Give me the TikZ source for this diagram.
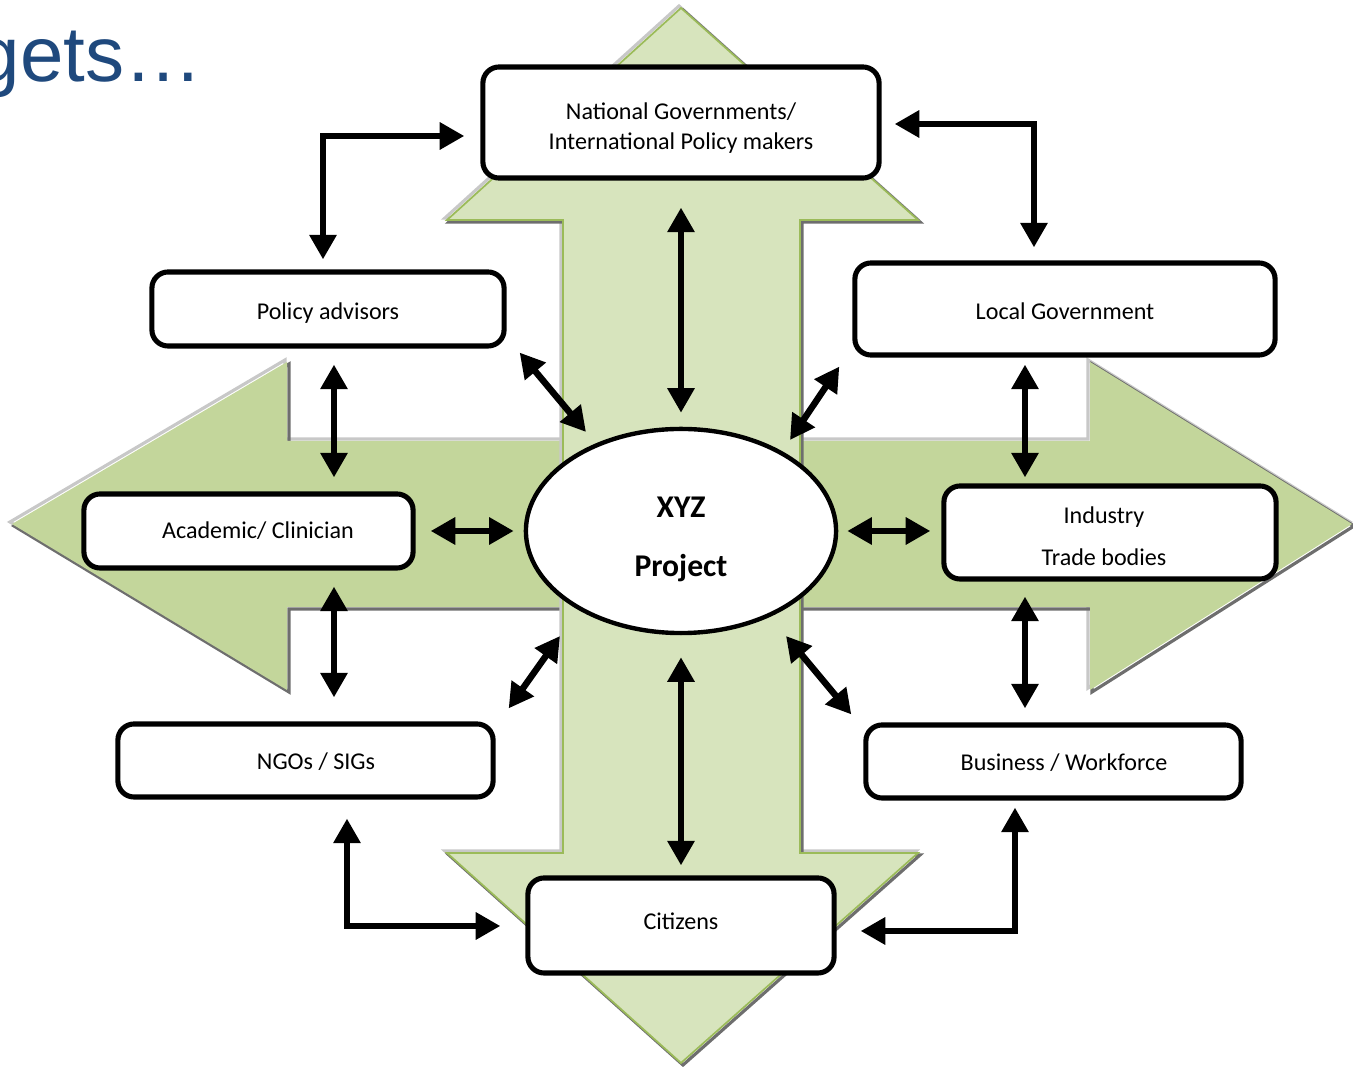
\documentclass[tikz,border=0pt]{standalone}
\usepackage{fontspec}
\setmainfont{Carlito}
\newfontfamily\titlefont{Liberation Sans}
\usetikzlibrary{calc,arrows.meta,shapes.geometric}

\definecolor{vgreen}{RGB}{215,228,189}
\definecolor{hgreen}{RGB}{195,214,155}
\definecolor{edgegreen}{RGB}{155,187,89}
\definecolor{titleblue}{RGB}{31,73,125}
\definecolor{shadelight}{RGB}{200,200,200}
\definecolor{shadedark}{RGB}{110,110,110}

\tikzset{
  box/.style={draw, line width=1.45pt, rounded corners=4.6pt, fill=white,
    align=center, inner sep=0pt,
    font=\fontsize{6.85}{8.25}\selectfont},
  hub/.style={ellipse, draw, line width=1.25pt, fill=white, align=center,
    inner sep=0pt, minimum width=3.1cm, minimum height=2.04cm,
    font=\bfseries\fontsize{9}{10.8}\selectfont},
  conn/.style={line width=1.85pt, line join=miter,
    {Triangle[width=7.4pt,length=7pt]}-{Triangle[width=7.4pt,length=7pt]}},
  hilite/.style={draw=shadelight, line width=0.9pt},
  lowlite/.style={draw=shadedark, line width=0.9pt}
}

\begin{document}
\begin{tikzpicture}[x=0.01cm,y=-0.01cm]
\useasboundingbox (0,0) rectangle (1353,1067);

% horizontal double arrow
\def\harrow{(12,524) -- (287,362) -- (287,441) -- (1090,441) -- (1090,362)
  -- (1352,524) -- (1090,690) -- (1090,607) -- (287,607) -- (287,690) -- cycle}
\draw[hilite, shift={(-2,-2)}] \harrow;
\draw[lowlite, shift={(2,2)}] \harrow;
\fill[hgreen] \harrow;

% vertical double arrow
\def\varrow{(681,8) -- (918,220) -- (800,220) -- (800,853) -- (918,853)
  -- (681,1063) -- (447,853) -- (563,853) -- (563,220) -- (447,220) -- cycle}
\draw[hilite, shift={(-2,-2)}] \varrow;
\draw[lowlite, shift={(2,2)}] \varrow;
\filldraw[fill=vgreen, draw=edgegreen, line width=0.5pt] \varrow;

% heading fragment
\node[anchor=base west, text=titleblue, font=\titlefont\fontsize{22.2}{26}\selectfont,
  inner sep=0pt] (heading) at (-24,82) {gets…};

% stakeholder boxes
\node[box, minimum width=3.96cm, minimum height=1.11cm, text height=15.08pt, text depth=0pt]
  (nat) at (681,122.5) {National Governments/\\International Policy makers};
\node[box, minimum width=3.52cm, minimum height=0.74cm, text height=6.26pt, text depth=0pt]
  (pol) at (328,309) {Policy advisors};
\node[box, minimum width=4.20cm, minimum height=0.92cm, text height=6.26pt, text depth=0pt]
  (loc) at (1065,309) {Local Government};
\node[box, minimum width=3.29cm, minimum height=0.74cm, text height=4.55pt, text depth=0pt]
  (aca) at (248.5,531) {\hspace*{0.19cm}Academic/ Clinician};
\node[box, minimum width=3.32cm, minimum height=0.93cm, text height=18.5pt, text depth=0pt]
  (ind) at (1110,532.5) {Industry\hspace*{0.12cm}\\[3.7pt]Trade bodies\hspace*{0.12cm}};
\node[box, minimum width=3.75cm, minimum height=0.73cm, text height=5.4pt, text depth=0pt]
  (ngo) at (305.5,760.5) {\hspace*{0.21cm}NGOs / SIGs};
\node[box, minimum width=3.75cm, minimum height=0.73cm, text height=5.4pt, text depth=0pt]
  (bus) at (1053.5,761.5) {\hspace*{0.21cm}Business / Workforce};
\node[box, minimum width=3.06cm, minimum height=0.95cm, text height=2.56pt, text depth=0pt]
  (cit) at (681,925.5) {Citizens};

% central project
\node[hub, text height=25.6pt, text depth=0pt] (proj) at (681,531) {XYZ\\[5.7pt]Project};

% links between stakeholders
\draw[conn] ($(pol.north)+(-5,-10)$) |- ($(nat.west)+(-16,13.5)$);
\draw[conn] ($(nat.east)+(13,1.5)$) -| ($(loc.north)+(-31,-13)$);
\draw[conn] ($(pol.south)+(6,16)$) -- ($(aca.north)+(85.5,-14)$);
\draw[conn] ($(loc.south)+(-40,7)$) -- ($(ind.north)+(-85,-6)$);
\draw[conn] ($(aca.south)+(85.5,16)$) -- ($(ngo.north)+(28.5,-24)$);
\draw[conn] ($(ind.south)+(-85,15)$) -- ($(bus.north)+(-28.5,-14)$);
\draw[conn] ($(ngo.south)+(41.5,19)$) |- ($(cit.west)+(-25,0.5)$);
\draw[conn] ($(bus.south)+(-38.5,7)$) |- ($(cit.east)+(24,5.5)$);

% links to the project
\draw[conn] ($(nat.south)+(0,27)$) -- ($(proj.north)+(0,-14)$);
\draw[conn] ($(pol.south east)+(13,4)$) -- ($(proj.center)+(-95,-99)$);
\draw[conn] ($(loc.south west)+(-13,9)$) -- ($(proj.center)+(109,-91)$);
\draw[conn] ($(aca.east)+(15,0)$) -- ($(proj.west)+(-10,0)$);
\draw[conn] ($(proj.east)+(9,0)$) -- ($(ind.west)+(-11,-1.5)$);
\draw[conn] ($(proj.center)+(-121,105)$) -- ($(ngo.north east)+(13,-13)$);
\draw[conn] ($(proj.center)+(105,105)$) -- ($(bus.north west)+(-12,-8)$);
\draw[conn] ($(proj.south)+(0,22)$) -- ($(cit.north)+(0,-10)$);
\end{tikzpicture}
\end{document}
